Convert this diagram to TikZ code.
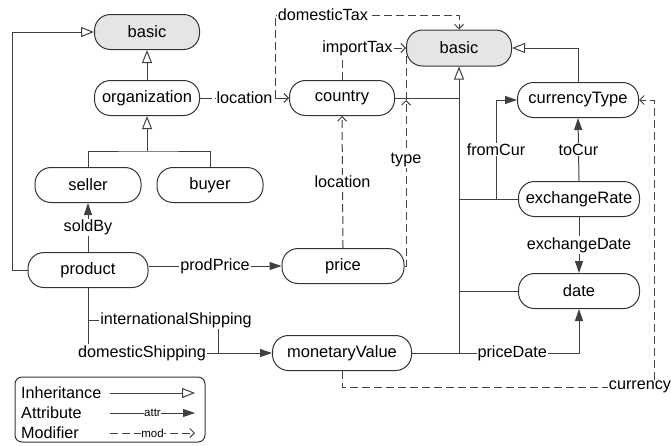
\documentclass[tikz,border=0pt]{standalone}
\usepackage{fontspec}
\setmainfont{Liberation Sans}
\usetikzlibrary{arrows.meta}
\newcommand\ndfont{\fontsize{16.5}{19}\selectfont}
\newcommand\lbfont{\fontsize{16.2}{19}\selectfont}
\newcommand\smfont{\fontsize{11.5}{13}\selectfont}
\begin{document}
\begin{tikzpicture}[x=1pt,y=-1pt,
  nd/.style={draw=black!80, line width=1pt, rectangle, rounded corners=16pt,
    minimum height=35pt, inner sep=0pt, font=\ndfont, text=black},
  lbl/.style={fill=white, inner sep=1pt, font=\lbfont, text=black},
  ln/.style={draw=black!75, line width=1pt},
  inh/.style={ln, -{Triangle[open, length=13pt, width=10pt]}},
  attr/.style={ln, -{Triangle[length=12pt, width=8pt]}},
  modf/.style={ln, dash pattern=on 8pt off 4pt, -{Straight Barb[length=4.5pt, width=9pt]}},
  gray box/.style={fill=black!10}]
\useasboundingbox (0,0) rectangle (671,445);

% nodes
\node[nd, gray box, minimum width=105pt] (basicL) at (147,32) {basic};
\node[nd, minimum width=105pt] (org) at (147,98) {organization};
\node[nd, minimum width=106pt] (seller) at (88,185) {seller};
\node[nd, minimum width=106pt] (buyer) at (210,185) {buyer};
\node[nd, minimum width=120pt] (product) at (88,270) {product};
\node[nd, minimum width=105pt] (country) at (342,98) {country};
\node[nd, gray box, minimum width=105pt, minimum height=36pt] (basicR) at (459,48) {basic};
\node[nd, minimum width=121pt] (currencyType) at (578,100) {currencyType};
\node[nd, minimum width=121pt] (exchangeRate) at (579,199) {exchangeRate};
\node[nd, minimum width=121pt] (date) at (579,291) {date};
\node[nd, minimum width=122pt] (price) at (343,266) {price};
\node[nd, minimum width=139pt] (mv) at (342,353) {monetaryValue};

% free labels
\node[lbl] (intl) at (176,320) {internationalShipping};
\node[lbl] (dom) at (142,353) {domesticShipping};
\node[lbl] (cur) at (640,387) {currency};

% inheritance
\draw[inh] (product.west) -- ++(-15,0) |- (basicL.west);
\draw[inh] (org.north) -- (basicL.south);
\coordinate (j1) at (147,151);
\draw[ln] (seller.north) |- (j1) -| (buyer.north);
\draw[inh] (j1) -- (org.south);
\draw[inh] (mv.east) -| (basicR.south);
\draw[ln] (country.east) -- (country.east -| basicR.south);
\draw[ln] (exchangeRate.west) -- (exchangeRate.west -| basicR.south);
\draw[ln] (date.west) -- (date.west -| basicR.south);
\draw[inh] (currencyType.north) |- (basicR.east);

% attributes
\draw[attr] (product.north) -- node[lbl]{soldBy} (seller.south);
\draw[attr] (product.east |- price.west) -- node[lbl]{prodPrice} (price.west);
\draw[ln] (product.south) -- (product.south |- dom.north);
\draw[ln] (product.south |- intl.west) -- (intl.west);
\coordinate (m1) at (218,353);
\draw[ln] ([xshift=42pt]intl.south) -- (m1);
\draw[attr] (dom.east) -- (mv.west);
\coordinate (fc) at (496,199);
\draw[attr] (fc) |- node[lbl,pos=0.25]{fromCur} (currencyType.west);
\draw[attr] (exchangeRate.north) -- node[lbl]{toCur} (currencyType.south);
\draw[attr] (exchangeRate.south) -- node[lbl]{exchangeDate} (date.north);
\draw[attr] (mv.east) -| node[lbl,pos=0.3]{priceDate} (date.south);

% modifiers
\draw[modf, dash pattern=on 12pt off 3pt] (org.east) -- node[lbl]{location} (country.west);
\coordinate (dt) at (275,98);
\draw[modf] (dt) -- ++(0,-83) -| node[lbl,pos=0.13]{domesticTax} (basicR.north);
\draw[modf] (country.north) |- node[lbl,pos=0.62]{importTax} (basicR.west);
\coordinate (tp) at (406,100);
\coordinate (tt) at (406,55);
\draw[modf] (price.east) -| node[lbl,pos=0.82]{type} (tp);
\draw[ln, dash pattern=on 8pt off 4pt] (tp) -- (tt);
\draw[modf] (price.north) -- node[lbl]{location} (country.south);
\draw[ln, dash pattern=on 8pt off 4pt] (mv.south) |- (cur.west);
\draw[modf] ([xshift=14pt]cur.north) |- (currencyType.east);

% legend
\node[draw=black!80, line width=1pt, rounded corners=7pt, minimum width=190pt,
  minimum height=65pt] (legend) at (110,409.5) {};
\node[lbl, anchor=west] (lgI) at (20,393) {Inheritance};
\node[lbl, anchor=west] (lgA) at (20,413) {Attribute};
\node[lbl, anchor=west] (lgM) at (20,433) {Modifier};
\coordinate (li1) at (110,393); \coordinate (li2) at (195,393);
\coordinate (la1) at (110,413); \coordinate (la2) at (195,413);
\coordinate (lm1) at (110,433); \coordinate (lm2) at (195,433);
\draw[inh] (li1) -- (li2);
\draw[attr] (la1) -- node[lbl, font=\smfont, inner sep=0.5pt]{attr} (la2);
\draw[modf] (lm1) -- node[lbl, font=\smfont, inner sep=0.5pt]{mod} (lm2);
\end{tikzpicture}
\end{document}
